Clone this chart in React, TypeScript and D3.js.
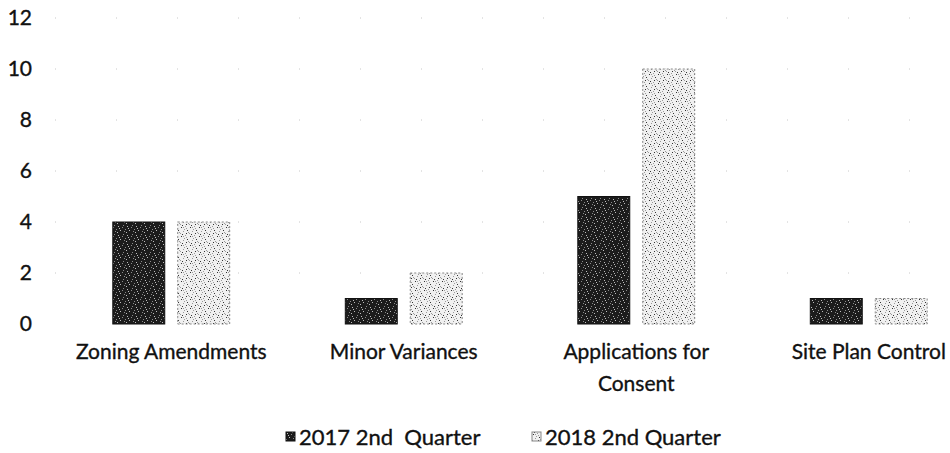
import React, { useEffect, useRef } from 'react';
import * as d3 from 'd3';

const categories = [['Zoning Amendments'], ['Minor Variances'], ['Applications for', 'Consent'], ['Site Plan Control']];
const seriesNames = ['2017 2nd  Quarter', '2018 2nd Quarter'];
const values2017 = [4, 1, 5, 1];
const values2018 = [4, 2, 10, 1];
const yTicks = [0, 2, 4, 6, 8, 10, 12];

function App() {
  const svgRef = useRef<SVGSVGElement>(null);

  useEffect(() => {
    if (!svgRef.current) return;
    const width = 950;
    const height = 453;
    const svg = d3.select(svgRef.current);
    svg.selectAll('*').remove();
    svg.attr('width', width).attr('height', height);

    const font = 'Lato, "Open Sans", sans-serif';
    const fontSize = 21;

    // speckled fills to mimic the scanned print
    const defs = svg.append('defs');
    const darkPat = defs.append('pattern')
      .attr('id', 'darkSpeck').attr('patternUnits', 'userSpaceOnUse')
      .attr('width', 9).attr('height', 9);
    darkPat.append('rect').attr('width', 9).attr('height', 9).attr('fill', '#1c1c1c');
    [[1, 1], [5, 2], [3, 5], [7, 6], [0, 7], [6, 0], [2, 3], [8, 4]].forEach(([x, y], i) => {
      darkPat.append('rect').attr('x', x).attr('y', y).attr('width', 1).attr('height', 1)
        .attr('fill', i % 2 ? '#8a8a8a' : '#bdbdbd');
    });
    const lightPat = defs.append('pattern')
      .attr('id', 'lightSpeck').attr('patternUnits', 'userSpaceOnUse')
      .attr('width', 9).attr('height', 9);
    lightPat.append('rect').attr('width', 9).attr('height', 9).attr('fill', '#f0f0f0');
    [[1, 2], [5, 1], [3, 6], [7, 5], [0, 8], [6, 3], [2, 0], [8, 7], [4, 4], [6, 8], [3, 2]].forEach(([x, y], i) => {
      lightPat.append('rect').attr('x', x).attr('y', y).attr('width', 1).attr('height', 1)
        .attr('fill', i % 3 === 0 ? '#333' : '#9a9a9a');
    });

    const x0 = d3.scaleBand<number>()
      .domain(d3.range(categories.length))
      .range([55, 985]);
    const x1 = d3.scaleBand<number>()
      .domain([0, 1])
      .range([0, x0.bandwidth()])
      .paddingInner(0.2)
      .paddingOuter(0.89);
    const y = d3.scaleLinear().domain([0, 12]).range([324, 18]);

    // faint dotted gridlines (as they show up in the scan)
    svg.append('g').selectAll('line')
      .data(yTicks.slice(1))
      .join('line')
      .attr('x1', 55).attr('x2', width)
      .attr('y1', d => y(d)).attr('y2', d => y(d))
      .attr('stroke', '#c8c8c8')
      .attr('stroke-width', 1)
      .attr('stroke-dasharray', '1,60');

    const textStyle = (sel: any) => sel
      .attr('font-family', font)
      .attr('font-size', fontSize)
      .attr('fill', '#111')
      .attr('stroke', '#111')
      .attr('stroke-width', 0.35);

    svg.append('g').selectAll('text')
      .data(yTicks)
      .join('text')
      .attr('x', 32)
      .attr('y', d => y(d))
      .attr('dy', '0.35em')
      .attr('text-anchor', 'end')
      .call(textStyle)
      .text(d => d);

    const series = [values2017, values2018];
    const fills = ['url(#darkSpeck)', 'url(#lightSpeck)'];
    const strokes = ['#111', '#888'];
    series.forEach((vals, s) => {
      svg.append('g').selectAll('rect')
        .data(vals)
        .join('rect')
        .attr('x', (d, i) => x0(i)! + x1(s)!)
        .attr('y', d => y(d))
        .attr('width', x1.bandwidth())
        .attr('height', d => y(0) - y(d))
        .attr('fill', fills[s])
        .attr('stroke', strokes[s])
        .attr('stroke-width', 1)
        .attr('stroke-dasharray', s === 1 ? '2,2' : null);
    });

    const labels = svg.append('g');
    categories.forEach((lines, i) => {
      lines.forEach((line, j) => {
        labels.append('text')
          .attr('x', x0(i)! + x0.bandwidth() / 2)
          .attr('y', 352 + j * 32)
          .attr('dy', '0.35em')
          .attr('text-anchor', 'middle')
          .call(textStyle)
          .text(line);
      });
    });

    // legend
    const legendX = [286, 532];
    seriesNames.forEach((name, s) => {
      const g = svg.append('g').attr('transform', `translate(${legendX[s]},432)`);
      g.append('rect')
        .attr('width', 9).attr('height', 9)
        .attr('fill', fills[s])
        .attr('stroke', strokes[s])
        .attr('stroke-width', 1);
      g.append('text')
        .attr('x', 13).attr('y', 5)
        .attr('dy', '0.35em')
        .call(textStyle)
        .attr('font-size', 22)
        .attr('xml:space', 'preserve')
        .style('white-space', 'pre')
        .text(name);
    });
  }, []);

  return (
    <svg ref={svgRef} style={{ position: 'absolute', left: 0, top: 0, background: '#fff' }}></svg>
  );
}

export default App;
